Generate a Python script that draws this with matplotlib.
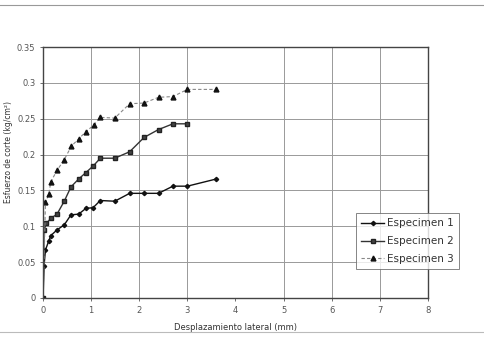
import numpy as np
import matplotlib.pyplot as plt

# Data
x1 = [0, 0.02, 0.05, 0.12, 0.16, 0.29, 0.44, 0.58, 0.74, 0.89, 1.04, 1.19, 1.49, 1.80, 2.10, 2.40, 2.70, 3.00, 3.60]
y1 = [0, 0.045, 0.067, 0.080, 0.087, 0.095, 0.102, 0.116, 0.117, 0.125, 0.126, 0.136, 0.135, 0.146, 0.146, 0.146, 0.156, 0.156, 0.166]

x2 = [0, 0.02, 0.07, 0.16, 0.29, 0.44, 0.58, 0.74, 0.89, 1.04, 1.19, 1.49, 1.80, 2.10, 2.40, 2.70, 3.00]
y2 = [0, 0.095, 0.104, 0.111, 0.117, 0.135, 0.155, 0.166, 0.175, 0.184, 0.195, 0.195, 0.204, 0.224, 0.235, 0.243, 0.243]

x3 = [0, 0.05, 0.12, 0.16, 0.29, 0.44, 0.59, 0.74, 0.89, 1.05, 1.19, 1.49, 1.80, 2.10, 2.40, 2.70, 3.00, 3.60]
y3 = [0, 0.1335, 0.145, 0.162, 0.178, 0.193, 0.212, 0.222, 0.232, 0.241, 0.252, 0.251, 0.271, 0.272, 0.280, 0.281, 0.291, 0.291]

labels = ["Especimen 1", "Especimen 2", "Especimen 3"]
y_ticks = [0, 0.05, 0.1, 0.15, 0.2, 0.25, 0.3, 0.35]
y_tick_labels = ["0", "0.05", "0.1", "0.15", "0.2", "0.25", "0.3", "0.35"]
x_ticks = [0, 1, 2, 3, 4, 5, 6, 7, 8]

fig = plt.figure(figsize=(4.84, 3.39), dpi=100)
ax = fig.add_axes([0.089, 0.121, 0.795, 0.740])

ax.plot(x1, y1, color='#111111', lw=1.0, marker='D', ms=2.2, label=labels[0])
ax.plot(x2, y2, color='#333333', lw=1.0, marker='s', ms=3.0, mfc='#444444', mec='#222222', label=labels[1])
ax.plot(x3, y3, color='#888888', lw=0.8, ls=(0, (3, 2)), marker='^', ms=3.5, mfc='#111111', mec='#111111', label=labels[2])

ax.set_xlim(0, 8)
ax.set_ylim(0, 0.35)
ax.set_xticks(x_ticks)
ax.set_yticks(y_ticks)
ax.set_yticklabels(y_tick_labels)
ax.tick_params(labelsize=6, length=2, width=0.6, colors='#555555')

ax.grid(True, color='#999999', lw=0.7)
ax.xaxis.get_gridlines()[4].set_visible(False)
for s in ax.spines.values():
    s.set_color('#444444')
    s.set_linewidth(1.0)

ax.set_xlabel("Desplazamiento lateral (mm)", fontsize=6, color='#333333', labelpad=6)
ax.set_ylabel("Esfuerzo de corte (kg/cm²)", fontsize=5.5, color='#333333')
ax.yaxis.set_label_coords(-0.078, 0.58)

leg = ax.legend(loc='upper left', bbox_to_anchor=(0.80, 0.3586), fontsize=7.5,
                frameon=True, fancybox=False, edgecolor='#666666',
                handlelength=2.2, labelspacing=0.75, borderpad=0.5, handletextpad=0.3)
leg.get_frame().set_linewidth(0.7)
for t in leg.get_texts():
    t.set_color('#333333')

# scan border lines
fig.add_artist(plt.Line2D([0.0, 1.0], [0.985, 0.985], color='#999999', lw=0.8))
fig.add_artist(plt.Line2D([0.0, 1.0], [0.02, 0.02], color='#bbbbbb', lw=0.8))

fig.savefig("out.png", dpi=100)
